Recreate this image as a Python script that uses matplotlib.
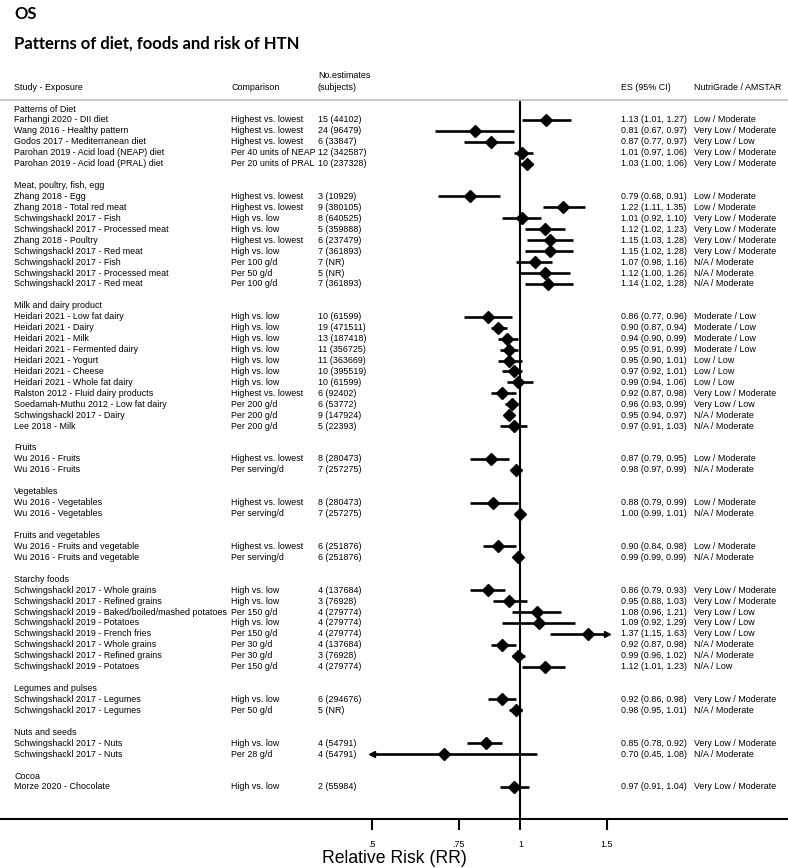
import matplotlib
matplotlib.use("Agg")
import matplotlib.pyplot as plt
import matplotlib.transforms as mtransforms

# ---------------- data ----------------
section_names = [
    "Patterns of Diet", "Meat, poultry, fish, egg", "Milk and dairy product",
    "Fruits", "Vegetables", "Fruits and vegetables", "Starchy foods",
    "Legumes and pulses", "Nuts and seeds", "Cocoa",
]
section_sizes = [5, 9, 11, 2, 2, 2, 8, 2, 2, 1]

studies = [
    "Farhangi 2020 - DII diet", "Wang 2016 - Healthy pattern", "Godos 2017 - Mediterranean diet",
    "Parohan 2019 - Acid load (NEAP) diet", "Parohan 2019 - Acid load (PRAL) diet",
    "Zhang 2018 - Egg", "Zhang 2018 - Total red meat", "Schwingshackl 2017 - Fish",
    "Schwingshackl 2017 - Processed meat", "Zhang 2018 - Poultry", "Schwingshackl 2017 - Red meat",
    "Schwingshackl 2017 - Fish", "Schwingshackl 2017 - Processed meat", "Schwingshackl 2017 - Red meat",
    "Heidari 2021 - Low fat dairy", "Heidari 2021 - Dairy", "Heidari 2021 - Milk",
    "Heidari 2021 - Fermented dairy", "Heidari 2021 - Yogurt", "Heidari 2021 - Cheese",
    "Heidari 2021 - Whole fat dairy", "Ralston 2012 - Fluid dairy products",
    "Soedamah-Muthu 2012 - Low fat dairy", "Schwingshackl 2017 - Dairy", "Lee 2018 - Milk",
    "Wu 2016 - Fruits", "Wu 2016 - Fruits",
    "Wu 2016 - Vegetables", "Wu 2016 - Vegetables",
    "Wu 2016 - Fruits and vegetable", "Wu 2016 - Fruits and vegetable",
    "Schwingshackl 2017 - Whole grains", "Schwingshackl 2017 - Refined grains",
    "Schwingshackl 2019 - Baked/boiled/mashed potatoes", "Schwingshackl 2019 - Potatoes",
    "Schwingshackl 2019 - French fries", "Schwingshackl 2017 - Whole grains",
    "Schwingshackl 2017 - Refined grains", "Schwingshackl 2019 - Potatoes",
    "Schwingshackl 2017 - Legumes", "Schwingshackl 2017 - Legumes",
    "Schwingshackl 2017 - Nuts", "Schwingshackl 2017 - Nuts",
    "Morze 2020 - Chocolate",
]
comparisons = [
    "Highest vs. lowest", "Highest vs. lowest", "Highest vs. lowest", "Per 40 units of NEAP", "Per 20 units of PRAL",
    "Highest vs. lowest", "Highest vs. lowest", "High vs. low", "High vs. low", "Highest vs. lowest", "High vs. low",
    "Per 100 g/d", "Per 50 g/d", "Per 100 g/d",
    "High vs. low", "High vs. low", "High vs. low", "High vs. low", "High vs. low", "High vs. low", "High vs. low",
    "Highest vs. lowest", "Per 200 g/d", "Per 200 g/d", "Per 200 g/d",
    "Highest vs. lowest", "Per serving/d",
    "Highest vs. lowest", "Per serving/d",
    "Highest vs. lowest", "Per serving/d",
    "High vs. low", "High vs. low", "Per 150 g/d", "High vs. low", "Per 150 g/d", "Per 30 g/d", "Per 30 g/d", "Per 150 g/d",
    "High vs. low", "Per 50 g/d",
    "High vs. low", "Per 28 g/d",
    "High vs. low",
]
n_estimates = [
    "15 (44102)", "24 (96479)", "6 (33847)", "12 (342587)", "10 (237328)",
    "3 (10929)", "9 (380105)", "8 (640525)", "5 (359888)", "6 (237479)", "7 (361893)", "7 (NR)", "5 (NR)", "7 (361893)",
    "10 (61599)", "19 (471511)", "13 (187418)", "11 (356725)", "11 (363669)", "10 (395519)", "10 (61599)",
    "6 (92402)", "6 (53772)", "9 (147924)", "5 (22393)",
    "8 (280473)", "7 (257275)",
    "8 (280473)", "7 (257275)",
    "6 (251876)", "6 (251876)",
    "4 (137684)", "3 (76928)", "4 (279774)", "4 (279774)", "4 (279774)", "4 (137684)", "3 (76928)", "4 (279774)",
    "6 (294676)", "5 (NR)",
    "4 (54791)", "4 (54791)",
    "2 (55984)",
]
es = [1.13, 0.81, 0.87, 1.01, 1.03,
      0.79, 1.22, 1.01, 1.12, 1.15, 1.15, 1.07, 1.12, 1.14,
      0.86, 0.90, 0.94, 0.95, 0.95, 0.97, 0.99, 0.92, 0.96, 0.95, 0.97,
      0.87, 0.98, 0.88, 1.00, 0.90, 0.99,
      0.86, 0.95, 1.08, 1.09, 1.37, 0.92, 0.99, 1.12,
      0.92, 0.98, 0.85, 0.70, 0.97]
ci_low = [1.01, 0.67, 0.77, 0.97, 1.00,
          0.68, 1.11, 0.92, 1.02, 1.03, 1.02, 0.98, 1.00, 1.02,
          0.77, 0.87, 0.90, 0.91, 0.90, 0.92, 0.94, 0.87, 0.93, 0.94, 0.91,
          0.79, 0.97, 0.79, 0.99, 0.84, 0.99,
          0.79, 0.88, 0.96, 0.92, 1.15, 0.87, 0.96, 1.01,
          0.86, 0.95, 0.78, 0.45, 0.91]
ci_high = [1.27, 0.97, 0.97, 1.06, 1.06,
           0.91, 1.35, 1.10, 1.23, 1.28, 1.28, 1.16, 1.26, 1.28,
           0.96, 0.94, 0.99, 0.99, 1.01, 1.01, 1.06, 0.98, 0.99, 0.97, 1.03,
           0.95, 0.99, 0.99, 1.01, 0.98, 0.99,
           0.93, 1.03, 1.21, 1.29, 1.63, 0.98, 1.02, 1.23,
           0.98, 1.01, 0.92, 1.08, 1.04]
grades = [
    "Low / Moderate", "Very Low / Moderate", "Very Low / Low", "Very Low / Moderate", "Very Low / Moderate",
    "Low / Moderate", "Low / Moderate", "Very Low / Moderate", "Very Low / Moderate", "Very Low / Moderate",
    "Very Low / Moderate", "N/A / Moderate", "N/A / Moderate", "N/A / Moderate",
    "Moderate / Low", "Moderate / Low", "Moderate / Low", "Moderate / Low", "Low / Low", "Low / Low", "Low / Low",
    "Very Low / Moderate", "Very Low / Low", "N/A / Moderate", "N/A / Moderate",
    "Low / Moderate", "N/A / Moderate", "Low / Moderate", "N/A / Moderate", "Low / Moderate", "N/A / Moderate",
    "Very Low / Moderate", "Very Low / Moderate", "Very Low / Low", "Very Low / Low", "Very Low / Low",
    "N/A / Moderate", "N/A / Moderate", "N/A / Low",
    "Very Low / Moderate", "N/A / Moderate", "Very Low / Moderate", "N/A / Moderate",
    "Very Low / Moderate",
]
x_ticks = [0.5, 0.75, 1, 1.5]
x_ticklabels = [".5", ".75", "1", "1.5"]
clip_min, clip_max = 0.5, 1.5

# ---------------- layout ----------------
W, H = 788, 868
ROW0, STEP = 109, 10.935
AX_TOP, AX_BOT = 100, 819
FONT = "Liberation Sans"
FS = 6.4

fig = plt.figure(figsize=(W / 100, H / 100), dpi=100)
ax = fig.add_axes([0, 1 - AX_BOT / H, 1, (AX_BOT - AX_TOP) / H])
ax.set_xscale("log")
ax.set_xlim(0.0878, 3.4956)
ax.set_ylim((AX_BOT - ROW0) / STEP, (AX_TOP - ROW0) / STEP)

tr = mtransforms.blended_transform_factory(ax.transAxes, ax.transData)
col_study, col_comp, col_n, col_es, col_grade = 14 / W, 231 / W, 318 / W, 621 / W, 694 / W


def ty(px):
    return (px - ROW0) / STEP


def txt(x, y, s, **kw):
    ax.text(x, y, s, transform=tr, fontsize=FS, family=FONT, va="center", ha="left", **kw)


# headers
txt(col_study, ty(88), "Study - Exposure")
txt(col_comp, ty(88), "Comparison")
txt(col_n, ty(76), "No.estimates")
txt(col_n, ty(88), "(subjects)")
txt(col_es, ty(88), "ES (95% CI)")
txt(col_grade, ty(88), "NutriGrade / AMSTAR")

r = 0
i = 0
for name, size in zip(section_names, section_sizes):
    txt(col_study, r, name)
    r += 1
    for _ in range(size):
        lo = max(ci_low[i], clip_min)
        hi = min(ci_high[i], clip_max)
        ax.plot([lo, hi], [r, r], color="black", lw=1.9, solid_capstyle="butt", zorder=3)
        if ci_low[i] < clip_min:
            ax.plot([clip_min], [r], marker="<", ms=5, color="black", zorder=4)
        if ci_high[i] > clip_max:
            ax.plot([clip_max], [r], marker=">", ms=5, color="black", zorder=4)
        ax.plot([es[i]], [r], marker="D", ms=6.4, color="black", zorder=5)
        txt(col_study, r, studies[i])
        txt(col_comp, r, comparisons[i])
        txt(col_n, r, n_estimates[i])
        txt(col_es, r, f"{es[i]:.2f} ({ci_low[i]:.2f}, {ci_high[i]:.2f})")
        txt(col_grade, r, grades[i])
        r += 1
        i += 1
    r += 1

ax.axvline(1, color="black", lw=1.5, zorder=2)

for s in ["left", "right"]:
    ax.spines[s].set_visible(False)
ax.spines["bottom"].set_linewidth(1.5)
ax.spines["top"].set_color("#c4c4c4")
ax.spines["top"].set_linewidth(1.3)
ax.set_yticks([])
ax.set_xticks(x_ticks)
ax.set_xticklabels(x_ticklabels, family=FONT)
ax.minorticks_off()
ax.tick_params(axis="x", direction="out", length=8, width=1.5, labelsize=FS, pad=7)
ax.set_xlabel("Relative Risk (RR)", fontsize=12.7, family=FONT, labelpad=1)

fig.text(14 / W, 1 - 14 / H, "OS", fontsize=12, weight="bold", family="Lato", va="center")
fig.text(14 / W, 1 - 44 / H, "Patterns of diet, foods and risk of HTN", fontsize=12,
         weight="bold", family="Lato", va="center")

fig.savefig("out.png", dpi=100)
